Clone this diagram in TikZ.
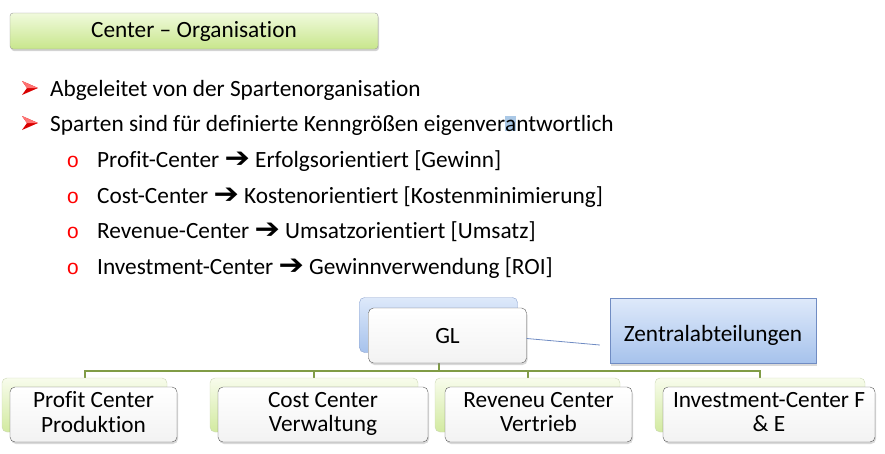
\documentclass[tikz,border=0pt]{standalone}
\usepackage{fontspec}
\usepackage{graphicx}
\setmainfont{Carlito}[Ligatures=NoCommon]
\newfontfamily\symfont{DejaVu Sans}
\newfontfamily\bulfont{Liberation Mono}
\usetikzlibrary{shadows,backgrounds}

\definecolor{titletop}{RGB}{240,250,220}
\definecolor{titlebot}{RGB}{200,230,140}
\definecolor{bluetop}{RGB}{222,233,250}
\definecolor{bluebot}{RGB}{166,194,236}
\definecolor{blueline}{RGB}{112,140,195}
\definecolor{greentop}{RGB}{248,252,236}
\definecolor{greenbot}{RGB}{210,234,160}
\definecolor{orgline}{RGB}{128,156,70}
\definecolor{hlblue}{RGB}{170,200,230}

\newcommand{\thenarrow}{\raisebox{-0.5pt}{\scalebox{1.3}[1.2]{\symfont\bfseries ➔}}}

\tikzset{
  txt/.style={inner sep=0pt, anchor=base west},
  titlebox/.style={draw=gray!80, rounded corners=3pt, top color=titletop, bottom color=titlebot,
    drop shadow={opacity=0.35, shadow xshift=1pt, shadow yshift=-2pt}},
  backblue/.style={draw=blueline!80, rounded corners=5pt, top color=bluetop, bottom color=bluebot},
  backgreen/.style={draw=orgline!40, rounded corners=5pt, top color=greentop, bottom color=greenbot},
  whitebox/.style={draw=black!65, rounded corners=5pt, top color=white, bottom color=black!5,
    drop shadow={opacity=0.3, shadow xshift=1pt, shadow yshift=-2pt}, align=center, inner ysep=0pt},
  frontbox/.style={whitebox,
    execute at begin node=\rule{0pt}{22pt}, execute at end node=\rule[-7pt]{0pt}{7pt}},
  orgbox/.style={whitebox, font=\fontsize{23.3}{24.5}\selectfont,
    execute at begin node=\rule{0pt}{20pt}, execute at end node=\rule[-5pt]{0pt}{5pt}},
  zbox/.style={draw=blueline, top color=bluetop, bottom color=bluebot,
    drop shadow={opacity=0.3, shadow xshift=1pt, shadow yshift=-2pt}},
  bar/.style={draw=orgline, line width=2pt},
  zline/.style={draw=blueline, line width=0.8pt}
}

\begin{document}
\begin{tikzpicture}[x=1pt, y=-1pt, font=\fontsize{23.3}{26}\selectfont]
\useasboundingbox (0,0) rectangle (885,453);

% title
\node[titlebox, minimum width=368pt, minimum height=36pt] (title) at (194,31) {Center -- Organisation};

% bullets
\foreach \y in {88,123} {
  \fill[red!85!black] (22,\y-7) -- (38,\y) -- (22,\y+7) -- (27,\y) -- cycle;
  \fill[red!55!white] (22,\y-7) -- (38,\y) -- (27,\y) -- cycle;
}
\node[txt] (l1) at (50,96) {Abgeleitet von der Spartenorganisation};
\node[txt] (l2) at (50,131) {Sparten sind für definierte Kenngrößen eigenver{\fboxsep=0pt\colorbox{hlblue}{\vphantom{t}a}}ntwortlich};

\foreach \y in {167,203,238,274}
  \node[txt, anchor=base, text=red, font=\bulfont\fontsize{21}{22}\selectfont] at (73,\y) {o};
\node[txt] (s1) at (97,167) {Profit-Center \thenarrow{} Erfolgsorientiert [Gewinn]};
\node[txt] (s2) at (97,203) {Cost-Center \thenarrow{} Kostenorientiert [Kostenminimierung]};
\node[txt] (s3) at (97,238) {Revenue-Center \thenarrow{} Umsatzorientiert [Umsatz]};
\node[txt] (s4) at (97,274) {Investment-Center \thenarrow{} Gewinnverwendung [ROI]};

% org chart
\node[backblue, minimum width=158pt, minimum height=55pt] (glb) at (438.5,325) {};
\node[frontbox, minimum width=158pt, minimum height=55pt] (glf) at (447.5,335.5) {GL};
\node[zbox, minimum width=206pt, minimum height=65pt] (zen) at (713,331) {\rule{0pt}{24pt}Zentralabteilungen};

\node[backgreen, minimum width=165pt, minimum height=54pt] (pcb) at (84.5,405) {};
\node[orgbox, minimum width=167pt, minimum height=55pt] (pcf) at (93.5,414.5) {Profit Center\\Produktion};
\node[backgreen, minimum width=208pt, minimum height=54pt] (ccb) at (314,405) {};
\node[orgbox, minimum width=210pt, minimum height=55pt] (ccf) at (323,414.5) {Cost Center\\Verwaltung};
\node[backgreen, minimum width=185pt, minimum height=54pt] (rcb) at (527.5,405) {};
\node[orgbox, minimum width=187pt, minimum height=55pt] (rcf) at (538.5,414.5) {Reveneu Center\\Vertrieb};
\node[backgreen, minimum width=210pt, minimum height=54pt] (icb) at (760,405) {};
\node[orgbox, minimum width=212pt, minimum height=55pt] (icf) at (769,414.5) {Investment-Center F\\\& E};

\begin{scope}[on background layer]
\draw[bar] (glb.south) -- ++(0,18) -| (pcb.north);
\draw[bar] (glb.south) -- ++(0,18) -| (ccb.north);
\draw[bar] (glb.south) -- ++(0,18) -| (rcb.north);
\draw[bar] (glb.south) -- ++(0,18) -| (icb.north);
\end{scope}
\draw[zline] ([yshift=-3pt]glf.east) -- ([xshift=-10pt,yshift=-14pt]zen.west);
\end{tikzpicture}
\end{document}
